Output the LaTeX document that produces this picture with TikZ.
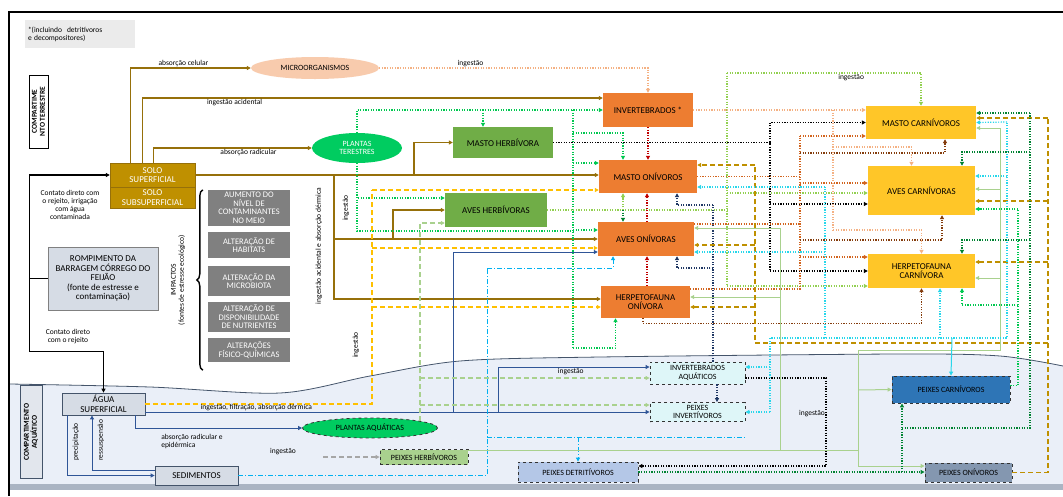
\documentclass[tikz,border=0pt]{standalone}
\usepackage{fontspec}
\setmainfont{Carlito}
\usetikzlibrary{arrows.meta}
\usetikzlibrary{shapes.geometric}
\usetikzlibrary{decorations.pathreplacing}
\definecolor{ouro}{RGB}{191,144,0}
\definecolor{linhaouro}{RGB}{150,112,10}
\definecolor{salmao}{RGB}{248,203,173}
\definecolor{verdeplanta}{RGB}{0,204,96}
\definecolor{verdeherb}{RGB}{112,173,71}
\definecolor{laranjaoni}{RGB}{237,125,49}
\definecolor{amarelocarn}{RGB}{255,198,40}
\definecolor{cinzaimp}{RGB}{128,128,128}
\definecolor{azulcinza}{RGB}{214,220,229}
\definecolor{coragua}{RGB}{234,239,248}
\definecolor{cinzafundo}{RGB}{170,180,195}
\definecolor{borda}{RGB}{68,84,106}
\definecolor{azullinha}{RGB}{47,85,151}
\definecolor{azulpeixe}{RGB}{46,117,182}
\definecolor{cinzapeixe}{RGB}{132,151,176}
\definecolor{azulclaro}{RGB}{180,199,231}
\definecolor{ciano}{RGB}{40,215,235}
\definecolor{cianoforte}{RGB}{0,176,240}
\definecolor{cianoclaro}{RGB}{222,246,248}
\definecolor{verdeclaro}{RGB}{169,209,142}
\definecolor{verdelima}{RGB}{146,208,80}
\definecolor{verdept}{RGB}{0,200,80}
\definecolor{verdeesc}{RGB}{0,130,50}
\definecolor{vermelho}{RGB}{192,0,0}
\definecolor{marinho}{RGB}{32,56,100}
\definecolor{tijolo}{RGB}{210,100,30}
\definecolor{marrom}{RGB}{132,60,12}
\definecolor{rosa}{RGB}{244,177,131}
\definecolor{oliva}{RGB}{191,144,0}
\definecolor{amarelo}{RGB}{255,192,0}

\begin{document}
\begin{tikzpicture}[x=1pt, y=-1pt,
	caixa/.style={rectangle, align=center, inner sep=0.5pt, font=\fontsize{9}{9.5}\selectfont},
	onivoro/.style={caixa, fill=laranjaoni},
	carnivoro/.style={caixa, fill=amarelocarn},
	herbivoro/.style={caixa, fill=verdeherb},
	impacto/.style={caixa, fill=cinzaimp, text=white, minimum width=82pt, font=\fontsize{8.5}{8.5}\selectfont},
	aquatico/.style={caixa, draw=black!80, dashed, thick, font=\fontsize{8}{8.5}\selectfont},
	rotulo/.style={font=\fontsize{7.5}{8}\selectfont, text=black, inner sep=1pt, align=left},
	seta/.style={-{Triangle[length=4pt,width=4pt]}},
	solo/.style={seta, draw=linhaouro, line width=1.1pt},
	preto/.style={seta, draw=black, line width=1.4pt},
	pontos/.style={seta, line width=1.2pt, dash pattern=on 1.2pt off 1.4pt},
	tracos/.style={seta, line width=1.2pt, dash pattern=on 5pt off 3pt},
	tracoponto/.style={seta, line width=1pt, dash pattern=on 5pt off 2pt on 1pt off 2pt},
	cheia/.style={seta, line width=1pt}]

	\useasboundingbox (0,0) rectangle (1063,496);

	% Fundo aquatico e moldura
	\fill[coragua] plot[smooth] coordinates {(10,384) (150,387) (280,393) (370,376) (460,361) (600,357) (900,354) (1000,356) (1063,366)} -- (1063,484) -- (10,484) -- cycle;
	\fill[cinzafundo] (10,484) rectangle (1063,490);
	\draw[borda, line width=0.8pt] plot[smooth] coordinates {(10,384) (150,387) (280,393) (370,376) (460,361) (600,357) (900,354) (1000,356) (1063,366)};
	\draw[line width=1.2pt] (1063,12) -- (9,12) -- (9,496);

	% Compartimento terrestre
	\node[rectangle, fill=black!8, rotulo, minimum width=110pt, minimum height=28pt, text width=104pt] (nota) at (80,34) {*(incluindo \ detritívoros\\e decompositores)};
	\node[draw, thick, rotate=90, minimum width=73pt, minimum height=19pt, inner sep=0pt, align=center, font=\bfseries\fontsize{7.5}{8}\selectfont] (compterr) at (38.5,111.5) {COMPARTIME\\NTO TERRESTRE};

	\node[caixa, fill=ouro, draw=linhaouro, text=white, minimum width=85pt, minimum height=24pt] (solosup) at (152.5,175) {SOLO\\SUPERFICIAL};
	\node[caixa, fill=ouro, draw=linhaouro, text=white, minimum width=85pt, minimum height=21pt] (solosub) at (152.5,197.5) {SOLO\\SUBSUPERFICIAL};

	\node[caixa, ellipse, fill=salmao, minimum width=128pt, minimum height=22pt, font=\fontsize{8}{8.5}\selectfont] (micro) at (315,68) {MICROORGANISMOS};
	\node[caixa, ellipse, fill=verdeplanta, text=white, minimum width=90pt, minimum height=30pt, font=\fontsize{8}{8.5}\selectfont] (plantter) at (357,148) {PLANTAS\\TERESTRES};

	\node[herbivoro, minimum width=100pt, minimum height=31pt] (mastoherb) at (503,142.5) {MASTO HERBÍVORA};
	\node[herbivoro, minimum width=102pt, minimum height=34pt] (avesherb) at (496,210) {AVES HERBÍVORAS};

	\node[onivoro, minimum width=90pt, minimum height=34pt] (invert) at (648,110) {INVERTEBRADOS *};
	\node[onivoro, minimum width=98pt, minimum height=33pt] (mastooni) at (648,176.5) {MASTO ONÍVOROS};
	\node[onivoro, minimum width=96pt, minimum height=34pt] (avesoni) at (646,239) {AVES ONÍVORAS};
	\node[onivoro, minimum width=89pt, minimum height=32pt] (herponi) at (645.5,302) {HERPETOFAUNA\\ONÍVORA};

	\node[carnivoro, minimum width=110pt, minimum height=33pt] (mastocarn) at (921,122.5) {MASTO CARNÍVOROS};
	\node[carnivoro, minimum width=107pt, minimum height=49pt] (avescarn) at (921.5,190.5) {AVES CARNÍVORAS};
	\node[carnivoro, minimum width=107pt, minimum height=34pt] (herpcarn) at (921.5,271) {HERPETOFAUNA\\CARNÍVORA};

	% Rompimento e impactos
	\node[caixa, fill=azulcinza, draw=gray, thick, minimum width=110pt, minimum height=63pt] (romp) at (103,278.5) {ROMPIMENTO DA\\BARRAGEM CÓRREGO DO\\FEIJÃO\\(fonte de estresse e\\contaminação)};

	\node[impacto, minimum height=36pt] (imp1) at (249,208) {AUMENTO DO\\NÍVEL DE\\CONTAMINANTES\\NO MEIO};
	\node[impacto, minimum height=26pt] (imp2) at (249,245) {ALTERAÇÃO DE\\HABITATS};
	\node[impacto, minimum height=30pt] (imp3) at (249,281) {ALTERAÇÃO DA\\MICROBIOTA};
	\node[impacto, minimum height=30pt] (imp4) at (249,317) {ALTERAÇÃO DE\\DISPONIBILIDADE\\DE NUTRIENTES};
	\node[impacto, minimum height=24pt] (imp5) at (249,350) {ALTERAÇÕES\\FÍSICO-QUÍMICAS};

	\draw[decorate, decoration={brace, amplitude=6pt}, line width=1.4pt] ([xshift=-5pt,yshift=-8pt]imp5.south west) -- ([xshift=-5pt]imp1.north west);
	\node[rotulo, rotate=90, align=center] (imptxt) at (178,280) {IMPACTOS\\(fontes de estresse ecológico)};

	% Compartimento aquatico
	\node[draw=borda, fill=azulcinza!70, thick, rotate=90, minimum width=93pt, minimum height=22pt, inner sep=0pt, align=center, font=\bfseries\fontsize{7.5}{8}\selectfont] (compaq) at (31,432) {COMPARTIMENTO\\AQUÁTICO};
	\node[caixa, fill=azulcinza, draw=borda, thick, minimum width=83pt, minimum height=22pt] (agua) at (103.5,404) {ÁGUA\\SUPERFICIAL};
	\node[caixa, fill=azulcinza, draw=borda, thick, minimum width=83pt, minimum height=19pt] (sedim) at (196.5,475.5) {SEDIMENTOS};
	\node[caixa, ellipse, fill=verdeplanta, draw=black!80, dashed, thick, minimum width=135pt, minimum height=20pt, font=\fontsize{8}{8.5}\selectfont] (plantaq) at (370,428) {PLANTAS AQUÁTICAS};
	\node[aquatico, fill=verdeclaro, minimum width=88pt, minimum height=15pt] (peixherb) at (424,457) {PEIXES HERBÍVOROS};
	\node[aquatico, fill=cianoclaro, minimum width=95pt, minimum height=22pt] (invaq) at (697.5,373) {INVERTEBRADOS\\AQUÁTICOS};
	\node[aquatico, fill=cianoclaro, minimum width=95pt, minimum height=19pt] (peixinv) at (697.5,412) {PEIXES\\INVERTÍVOROS};
	\node[aquatico, fill=azulclaro, minimum width=120pt, minimum height=20pt] (peixdet) at (578,472) {PEIXES DETRITÍVOROS};
	\node[aquatico, fill=azulpeixe, minimum width=118pt, minimum height=27pt] (peixcarn) at (951,389.5) {PEIXES CARNÍVOROS};
	\node[aquatico, fill=cinzapeixe, minimum width=87pt, minimum height=19pt] (peixoni) at (968.5,472.5) {PEIXES ONÍVOROS};

	% Contato com o rejeito
	\draw[preto] (romp.west) -- ++(-18,0) |- (solosup.west);
	\draw[preto] (romp.west) -- ++(-18,0) |- ([yshift=41pt]agua.north) -- (agua.north);
	\node[rotulo, align=center] (rotcont1) at (70,205) {Contato direto com\\o rejeito, irrigação\\com água\\contaminada};
	\node[rotulo, align=center] (rotcont2) at (68,337) {Contato direto\\com o rejeito};

	% Solo
	\draw[solo] ([xshift=-22pt]solosup.north) |- (micro) node[rotulo, pos=0.72, above] {absorção celular};
	\draw[solo] ([xshift=-10pt]solosup.north) |- ([yshift=12pt]invert.west) node[rotulo, pos=0.6, below] {ingestão acidental};
	\draw[solo] ([xshift=1pt]solosup.north) |- (plantter) node[rotulo, pos=0.8, below] {absorção radicular};
	\draw[solo] (solosup.east) -- (solosup.east -| mastooni.west);
	\coordinate (bifherb) at (414,175);
	\draw[solo] (bifherb) |- (mastoherb);
	\coordinate (bifacid) at (334,175);
	\draw[solo] (bifacid) |- ([yshift=3pt]herponi.west);
	\draw[solo] (bifacid |- avesoni.west) -- (avesoni.west);
	\coordinate (bifaves) at (393,239);
	\draw[solo] (bifaves) |- (avesherb);
	\node[rotulo, rotate=90] (rotacid) at (319,246) {ingestão acidental e absorção dérmica};

	% Microorganismos
	\draw[pontos, rosa] (micro) -| (invert) node[rotulo, pos=0.17, above] {ingestão};

	% Plantas terrestres
	\draw[pontos, verdept] (plantter) |- (invert);
	\coordinate (bifmh) at (483,110);
	\draw[pontos, verdept] (bifmh) -- (bifmh |- mastoherb.north);
	\draw[pontos, verdept, -] (plantter) |- (573,231);
	\draw[pontos, verdept, -] (573,110) -- (573,348);
	\draw[pontos, verdept] (573,348) -| ([xshift=-30pt]herponi.south);
	\draw[pontos, verdept] (573,163) -- ([yshift=13.5pt]mastooni.west);
	\draw[pontos, verdept] (573,230) -- ([yshift=9pt]avesoni.west);
	\draw[pontos, verdept] (573,133) -| ([xshift=-25pt]mastooni.north);
	\draw[pontos, verdept] (358,198) -- ([yshift=12pt]avesherb.west);
	\node[rotulo, rotate=90] (rotingA) at (346,208) {ingestão};

	% Herbivoros
	\draw[pontos, black, -] (mastoherb) -| (770,271);
	\draw[pontos, black] (770,271) -- (herpcarn.west);
	\draw[pontos, black] (770,142) |- (mastocarn.west);
	\draw[pontos, black] (770,204) -- ([yshift=-13.5pt]avescarn.west);

	\draw[pontos, verdelima, -] (avesherb.east) -- (727,210);
	\draw[pontos, verdelima, -] (727,73) -- (727,286);
	\draw[pontos, verdelima] (727,73) -| (mastocarn.north) node[rotulo, pos=0.32, below] {ingestão};
	\draw[pontos, verdelima] (727,193) -- ([yshift=-2.5pt]avescarn.west);
	\draw[pontos, verdelima] (727,286) -- ([yshift=-15pt]herpcarn.west);
	\draw[pontos, verdelima] (623,210) -- ([xshift=-25pt]mastooni.south);
	\draw[pontos, verdeesc] (623,210) -- ([xshift=-23pt]avesoni.north);

	% Onivoros
	\draw[pontos, vermelho] (invert) -- (invert.south |- mastooni.north);
	\draw[pontos, vermelho] ([xshift=1pt]avesoni.north) -- ([xshift=1pt]avesoni.north |- mastooni.south);
	\draw[pontos, vermelho] ([xshift=1.5pt]herponi.north) -- ([xshift=1.5pt]herponi.north |- avesoni.south);

	\draw[pontos, tijolo, -] (mastooni.east) -- (800,176.5);
	\draw[pontos, tijolo, -] ([yshift=15pt]avesoni.east) -- (800,224);
	\draw[pontos, tijolo, -] ([yshift=13pt]herponi.east) -- (800,289) -- (800,136);
	\draw[pontos, tijolo] (800,136) -- ([yshift=-13.5pt]mastocarn.west);
	\draw[pontos, tijolo] (800,183) -- ([yshift=7.5pt]avescarn.west);
	\draw[pontos, tijolo] (800,257) -- ([yshift=14pt]herpcarn.west);
	\draw[pontos, marrom] (800,153) -| ([xshift=24pt]mastocarn.south);
	\draw[pontos, marrom] (800,240) -| ([xshift=20.5pt]avescarn.south);
	\draw[pontos, marrom] ([xshift=-2.5pt]herponi.south) -- ++(0,5) -| (herpcarn.south);

	\draw[pontos, rosa] (invert.east) -- (invert.east -| mastocarn.west);
	\draw[pontos, rosa, -] (833,110) -- (833,230);
	\draw[pontos, rosa] (833,147) -| ([xshift=-10pt]avescarn.north);
	\draw[pontos, rosa] (833,230) -| (herpcarn.north);

	% Agua superficial
	\draw[tracos, amarelo, -] (agua.east) -| (372,190);
	\draw[tracos, amarelo] (372,190) -- ([yshift=-13.5pt]mastooni.west);
	\draw[tracos, amarelo] (372,248) -- ([yshift=-9pt]avesoni.west);
	\draw[tracos, amarelo] (372,307) -- ([yshift=-5pt]herponi.west);
	\node[rotulo, rotate=90] (rotingB) at (356,345) {ingestão};

	\draw[cheia, azullinha] ([xshift=-36.5pt]agua.south) |- (sedim.west);
	\node[rotulo, rotate=90] (rotprec) at (76,442) {precipitação};
	\draw[cheia, azullinha] ([yshift=5pt]sedim.west) -| ([xshift=-11.5pt]agua.south);
	\node[rotulo, rotate=90] (rotress) at (101,440) {ressuspensão};
	\draw[cheia, azullinha] ([yshift=-8pt]agua.east) -- (peixinv.west) node[rotulo, pos=0.22, above] {ingestão, filtração, absorção dérmica};
	\draw[cheia, azullinha] (453,412) |- ([yshift=-13pt]avesoni.west);
	\draw[cheia, azullinha] (498,412) |- ([yshift=6pt]invaq.west) node[rotulo, pos=0.74, below] {ingestão};
	\draw[cheia, azullinha] ([xshift=31.5pt]agua.south) |- (plantaq);
	\node[rotulo] (rotabs) at (192,441) {absorção radicular e\\epidérmica};

	% Sedimentos
	\draw[tracoponto, cianoforte, -] (sedim.east) -| (487,268);
	\draw[tracoponto, cianoforte] (487,268) -| ([xshift=-33pt]avesoni.south);
	\draw[tracoponto, cianoforte, -] (487,437) -- (745,437);
	\draw[tracoponto, cianoforte] (578,437) -- (peixdet.north);

	% Plantas aquaticas
	\draw[tracos, verdeclaro] (420,421) |- ([yshift=-13pt]avesherb.west);
	\draw[tracos, verdeclaro] (420,378) -- ([yshift=-5pt]invaq.west);
	\draw[tracos, verdeclaro] (420,405) -- ([yshift=7pt]peixinv.west);
	\coordinate (ingherb) at (323,457);
	\draw[tracos, black!35] (ingherb) -- (peixherb);
	\node[rotulo] (rotingC) at (283,452) {ingestão};

	% Peixes
	\draw[pontos, marinho, -] ([xshift=15.5pt]invaq.north) -- (713,205);
	\draw[pontos, marinho] (713,205) -| ([xshift=29pt]mastooni.south);
	\draw[pontos, marinho] (713,268) -| ([xshift=31pt]avesoni.south);
	\draw[pontos, marinho] ([xshift=19.5pt]invaq.south) -- ([xshift=19.5pt]peixinv.north);
	\draw[pontos, black] ([yshift=-5pt]invaq.east) -| (826,466) -- ([yshift=6pt]peixdet.east);

	\draw[cheia, verdeclaro, -] ([yshift=7pt]peixherb.east) -- (858,450);
	\draw[cheia, verdeclaro, -] (780,450) -- (780,228);
	\draw[cheia, verdeclaro] (780,228) -- ([yshift=11pt]avesoni.east);
	\draw[cheia, verdeclaro] (780,297) -- ([yshift=5pt]herponi.east);
	\draw[cheia, verdeclaro] (858,350) |- ([yshift=6.5pt]peixoni.west);
	\draw[cheia, verdeclaro] (858,390) -- (peixcarn.west);
	\draw[cheia, verdeclaro, -] (858,350) -| (1000,128);
	\draw[cheia, verdeclaro] (1000,128) -- ([yshift=-5.5pt]mastocarn.east);
	\draw[cheia, verdeclaro] (1000,189) -- ([yshift=1.5pt]avescarn.east);
	\draw[cheia, verdeclaro] (1000,278) -- ([yshift=-7pt]herpcarn.east);

	\draw[tracos, oliva, -] (peixoni.east) -| (1048,118);
	\draw[tracos, oliva] (1048,118) -- ([yshift=4.5pt]mastocarn.east);
	\draw[tracos, oliva] (1048,201) -- ([yshift=-10.5pt]avescarn.east);
	\draw[tracos, oliva] (1048,262) -- ([yshift=9pt]herpcarn.east);
	\draw[tracos, oliva, -] (1048,343) -| (755,165);
	\draw[tracos, oliva] (755,165) -- ([yshift=11.5pt]mastooni.east);
	\draw[tracos, oliva] (755,245) -- ([yshift=-6pt]avesoni.east);
	\draw[tracos, oliva] (755,307) -- ([yshift=-5pt]herponi.east);

	\draw[pontos, ciano, -] (770,412) -- (770,338) -- (1007,338) -- (1007,122);
	\draw[pontos, ciano] (770,367) -- ([yshift=6pt]invaq.east);
	\draw[pontos, ciano] (770,412) -- (peixinv.east);
	\node[rotulo] (rotingD) at (812,414) {ingestão};
	\draw[pontos, ciano] (1007,122) -- (mastocarn.east);
	\draw[pontos, ciano] (1007,176) -- ([yshift=14.5pt]avescarn.east);
	\draw[pontos, ciano, -] (825,338) -- (825,187);
	\draw[pontos, ciano] (825,187) -- ([yshift=-10.5pt]mastooni.east);
	\draw[pontos, ciano] (825,252) -- ([yshift=-13pt]avesoni.east);
	\draw[pontos, ciano] (940,338) -- ([xshift=18.5pt]herpcarn.south);
	\draw[cheia, ciano] (952,338) -- (peixcarn.north);

	\draw[pontos, verdeesc] (peixdet.east) -- (peixdet.east -| peixoni.west);
	\draw[pontos, verdeesc] (902,472) -- ([xshift=-49pt]peixcarn.south);
	\draw[pontos, verdeesc, -] (902,428) -| (1030,113);
	\draw[pontos, verdeesc] (1030,113) -- ([yshift=9.5pt]mastocarn.east);
	\draw[pontos, verdeesc] (1030,240) -| ([xshift=40.5pt]herpcarn.north);
	\draw[pontos, verdeesc] (1030,152) -| ([xshift=40.5pt]avescarn.north);

	\draw[pontos, verdept, -] ([yshift=4pt]peixcarn.east) -| (1018,209);
	\draw[pontos, verdept] (1018,209) -- ([yshift=-18.5pt]avescarn.east);
	\draw[pontos, verdept] (1018,305) -| ([xshift=40.5pt]herpcarn.south);

\end{tikzpicture}
\end{document}
